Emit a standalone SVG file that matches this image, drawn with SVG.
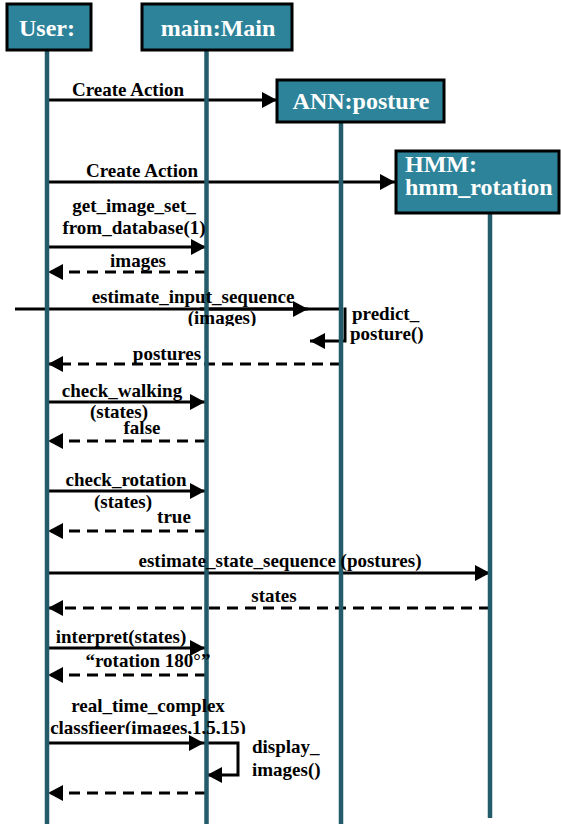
<svg xmlns="http://www.w3.org/2000/svg" width="561" height="824" viewBox="0 0 561 824">
  <style>
    .box { fill: #2d8399; stroke: #000; stroke-width: 3; }
    .life { stroke: #235b6b; stroke-width: 4.5; fill: none; }
    .title { font-family: "Liberation Serif", "Times New Roman", serif; font-weight: bold; font-size: 24px; fill: #fff; }
    .msg { stroke: #000; stroke-width: 3; fill: none; }
    .call { marker-end: url(#head); }
    .ret { stroke-dasharray: 11 7; marker-end: url(#head); }
    .lbl { font-family: "Liberation Serif", "Times New Roman", serif; font-weight: bold; font-size: 19px; fill: #000; text-anchor: middle; }
    .lft { text-anchor: start; }
  </style>
  <defs>
    <marker id="head" viewBox="0 0 15 16" refX="15" refY="8" markerWidth="15" markerHeight="16" markerUnits="userSpaceOnUse" orient="auto">
      <path d="M0,0 L15,8 L0,16 Z" fill="#000"/>
    </marker>
    <clipPath id="cut-images"><rect x="0" y="0" width="561" height="326"/></clipPath>
    <clipPath id="cut-classifier"><rect x="0" y="0" width="561" height="734"/></clipPath>
  </defs>

  <rect width="561" height="824" fill="#fff"/>

  <!-- message arrows -->
  <g id="connectors">
    <path class="msg call" d="M48,100 H277"/>
    <path class="msg call" d="M48,182 H395"/>
    <path class="msg call" d="M48,247 H206"/>
    <path class="msg ret" d="M206,272 H48"/>
    <path class="msg" d="M15,309 H343"/>
    <path class="msg call" d="M200,309 H308"/>
    <path class="msg call" d="M345,307.5 V341 H310"/>
    <path class="msg ret" d="M341,364 H48"/>
    <path class="msg call" d="M48,402 H205"/>
    <path class="msg ret" d="M206,441 H48"/>
    <path class="msg call" d="M48,491 H205"/>
    <path class="msg ret" d="M206,531 H48"/>
    <path class="msg call" d="M48,573 H490"/>
    <path class="msg ret" d="M490,608 H48"/>
    <path class="msg call" d="M48,648 H205"/>
    <path class="msg ret" d="M206,675 H48"/>
    <path class="msg call" d="M48,743 H204"/>
    <path class="msg call" d="M204,743 H238 V775 H207"/>
    <path class="msg ret" d="M206,793 H48"/>
  </g>

  <g id="node-user">
    <line class="life" x1="47" y1="50" x2="47" y2="824"/>
    <rect class="box" x="7" y="4" width="84" height="46"/>
    <text class="title" x="47" y="36" text-anchor="middle">User:</text>
  </g>

  <g id="node-main">
    <line class="life" x1="206.5" y1="50" x2="206.5" y2="824"/>
    <rect class="box" x="142" y="4" width="150" height="46"/>
    <text class="title" x="218" y="36" text-anchor="middle">main:Main</text>
  </g>

  <g id="node-ann">
    <line class="life" x1="341" y1="122" x2="341" y2="824"/>
    <rect class="box" x="277" y="80" width="167" height="42"/>
    <text class="title" x="361" y="109" text-anchor="middle">ANN:posture</text>
  </g>

  <g id="node-hmm">
    <line class="life" x1="490" y1="213" x2="490" y2="818"/>
    <rect class="box" x="396" y="151" width="163" height="62"/>
    <text class="title" x="405" y="172">HMM:</text>
    <text class="title" x="405" y="195">hmm_rotation</text>
  </g>

  <!-- message labels -->
  <g id="labels">
    <text class="lbl" x="128" y="96">Create Action</text>
    <text class="lbl" x="142" y="177">Create Action</text>
    <text class="lbl" x="134" y="212">get_image_set_</text>
    <text class="lbl" x="134" y="234">from_database(1)</text>
    <text class="lbl" x="138" y="267">images</text>
    <text class="lbl" x="193" y="303">estimate_input_sequence</text>
    <text class="lbl" x="222" y="324" clip-path="url(#cut-images)">(images)</text>
    <text class="lbl lft" x="352" y="320">predict_</text>
    <text class="lbl lft" x="350" y="340">posture()</text>
    <text class="lbl" x="167" y="360">postures</text>
    <text class="lbl" x="122" y="397">check_walking</text>
    <text class="lbl" x="119" y="418">(states)</text>
    <text class="lbl" x="142" y="434">false</text>
    <text class="lbl" x="126" y="486">check_rotation</text>
    <text class="lbl" x="123" y="508">(states)</text>
    <text class="lbl" x="174" y="523">true</text>
    <text class="lbl" x="280" y="567">estimate_state_sequence (postures)</text>
    <text class="lbl" x="274" y="602">states</text>
    <text class="lbl" x="121" y="643">interpret(states)</text>
    <text class="lbl" x="148" y="667">“rotation 180°”</text>
    <text class="lbl" x="148" y="712">real_time_complex</text>
    <text class="lbl" x="148" y="734" clip-path="url(#cut-classifier)">classfieer(images,1,5,15)</text>
    <text class="lbl lft" x="252" y="753">display_</text>
    <text class="lbl lft" x="252" y="776">images()</text>
  </g>
</svg>
